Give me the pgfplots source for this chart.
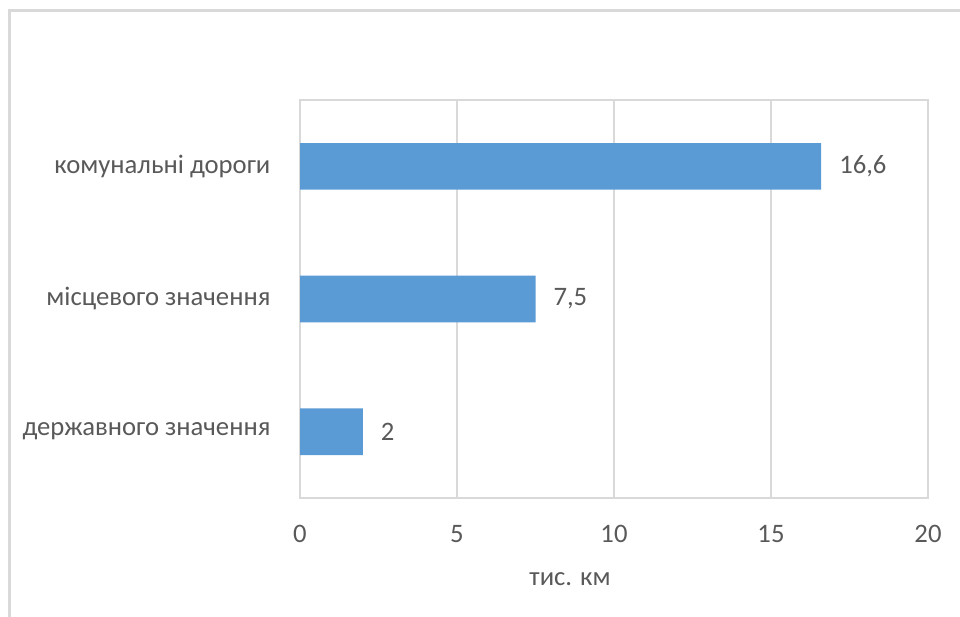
\documentclass[border=0pt]{standalone}
\usepackage{pgfplots}
\pgfplotsset{compat=1.18}
\usepackage{fontspec}
\setmainfont{Carlito}
\definecolor{barblue}{HTML}{5B9BD5}
\definecolor{gridgray}{HTML}{D9D9D9}
\definecolor{txtgray}{HTML}{595959}
\definecolor{framegray}{HTML}{D9D9D9}
\begin{document}
\begin{tikzpicture}
\useasboundingbox (0,0) rectangle (720pt,-462.75pt);
\draw[framegray, line width=2.2pt] (7pt,-470pt) -- (7pt,-7.6pt) -- (730pt,-7.6pt);
\begin{axis}[
    at={(225pt,-373.5pt)}, anchor=south west,
    scale only axis,
    width=471pt, height=298.5pt,
    xbar,
    bar width=35pt,
    xmin=0, xmax=20,
    ymin=-0.5, ymax=2.5,
    xtick={0,5,10,15,20},
    ytick={0,1,2},
    yticklabels={державного значення, місцевого значення, комунальні дороги},
    major tick length=0pt,
    xmajorgrids,
    grid style={gridgray, line width=0.8pt},
    axis line style={gridgray, line width=0.8pt},
    font=\fontsize{20}{24}\selectfont,
    tick label style={txtgray, font=\fontsize{20}{24}\selectfont},
    /pgf/number format/assume math mode=true,
    /pgf/number format/use comma,
    xticklabel style={inner sep=0pt, anchor=north, yshift=-20pt},
    yticklabel style={inner sep=0pt, anchor=east, xshift=-22pt},
    xlabel={тис. км},
    xlabel style={txtgray, at={(axis description cs:0.43,0)}, anchor=north, yshift=-56pt, inner sep=0pt},
    nodes near coords,
    nodes near coords style={txtgray, font=\fontsize{20}{24}\selectfont, anchor=west, xshift=10pt},
  ]
  \addplot[fill=barblue, draw=none] coordinates {
    (2,0)
    (7.5,1)
    (16.6,2)
  };
\end{axis}
\end{tikzpicture}
\end{document}
